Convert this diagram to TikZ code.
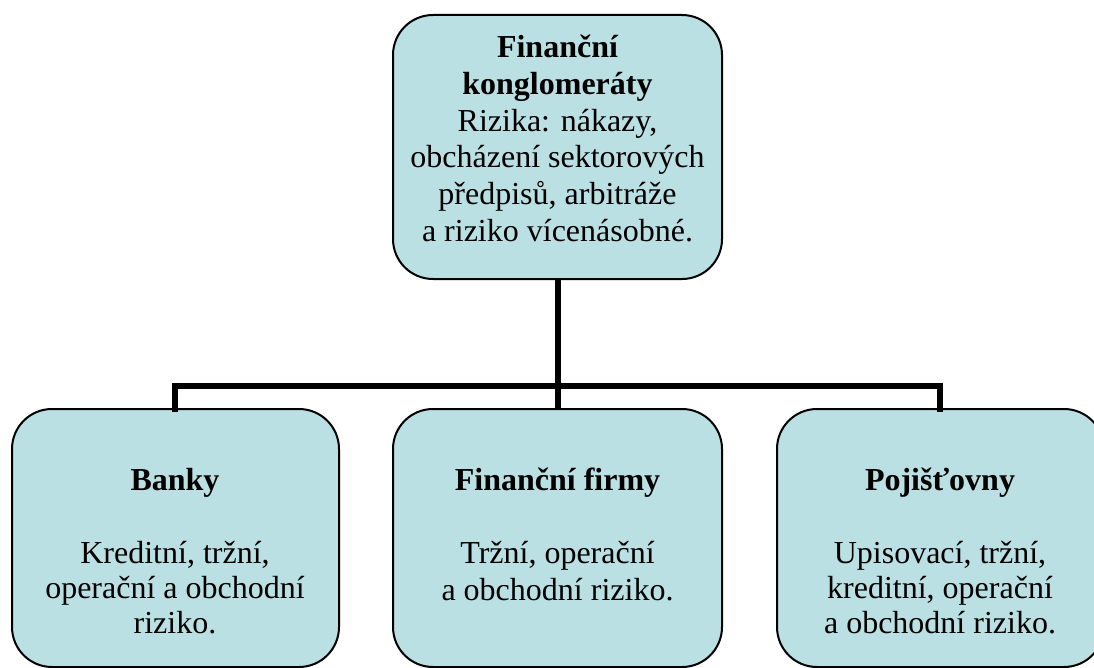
\documentclass[tikz,border=0pt]{standalone}
\usepackage{fontspec}
\setmainfont{Liberation Serif}
\definecolor{boxfill}{HTML}{BBE0E3}
\begin{document}
\begin{tikzpicture}[x=1pt,y=-1pt,
  box/.style={draw=black,line width=2pt,fill=boxfill,rounded corners=40pt},
  txt/.style={anchor=base,inner sep=0pt,font=\fontsize{32}{36}\selectfont,align=center},
  bold/.style={txt,font=\fontsize{32}{36}\selectfont\bfseries},
  conn/.style={draw=black,line width=6pt}]
\useasboundingbox (0,0) rectangle (1094,668);
% boxes
\draw[box] (393,15) rectangle (722,279);
\path (557.5,15) coordinate (topn) (557.5,279) coordinate (tops);
\draw[box] (12,409) rectangle (339,667);
\draw[box] (393,409) rectangle (722,667);
\draw[box] (777,409) rectangle (1104,667);
\coordinate (bankn) at (175,409);
\coordinate (firmn) at (557.5,409);
\coordinate (pojn) at (940,409);
\coordinate (hl) at (175,386);
\coordinate (hr) at (940,386);
\coordinate (hm) at (557.5,386);
% connectors
\draw[conn] (tops) -- (hm);
\draw[conn,line cap=rect] (bankn) -- (hl) -- (hr) -- (pojn);
\draw[conn] (hm) -- (firmn);
% texts
\node[bold] (t1) at (557.5,58) {Finanční};
\node[bold] (t2) at (557.5,94.7) {konglomeráty};
\node[txt] (t3) at (557.5,131.4) {Rizika: nákazy,};
\node[txt] (t4) at (557.5,168) {obcházení sektorových};
\node[txt] (t5) at (557.5,204.8) {předpisů, arbitráže};
\node[txt] (t6) at (557.5,241.5) {a riziko vícenásobné.};
\node[bold] (b1) at (175,490) {Banky};
\node[txt] (b2) at (175,563) {Kreditní, tržní,};
\node[txt] (b3) at (175,598) {operační a obchodní};
\node[txt] (b4) at (175,633) {riziko.};
\node[bold] (f1) at (557.5,490) {Finanční firmy};
\node[txt] (f2) at (557.5,563) {Tržní, operační};
\node[txt] (f3) at (557.5,600) {a obchodní riziko.};
\node[bold] (p1) at (940,490) {Pojišťovny};
\node[txt] (p2) at (940,563) {Upisovací, tržní,};
\node[txt] (p3) at (940,598) {kreditní, operační};
\node[txt] (p4) at (940,633) {a obchodní riziko.};
\end{tikzpicture}
\end{document}
